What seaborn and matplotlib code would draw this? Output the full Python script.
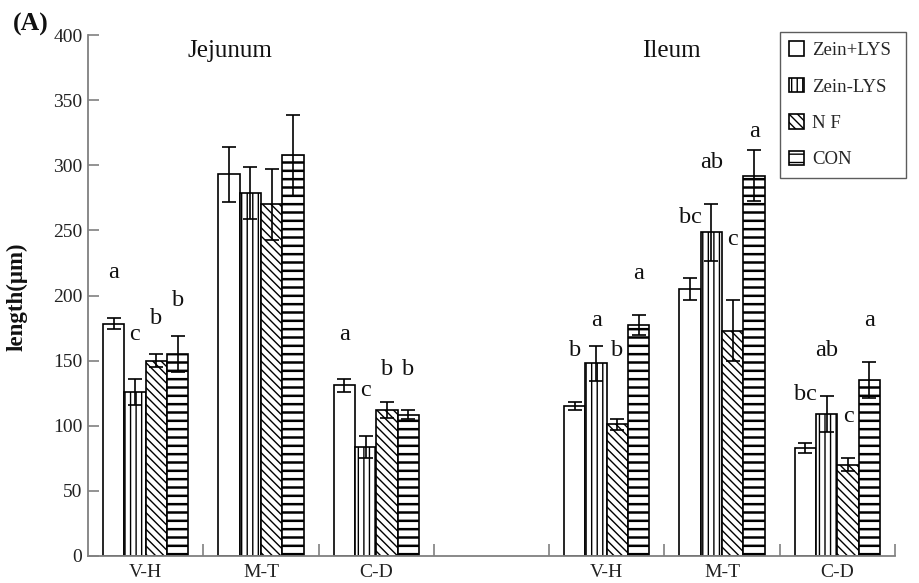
import numpy as np
import pandas as pd
import seaborn as sns
import matplotlib.pyplot as plt

# ---------------- data ----------------
treatments = ["Zein+LYS", "Zein-LYS", "N F", "CON"]
slots = ["J V-H", "J M-T", "J C-D", "gap", "I V-H", "I M-T", "I C-D"]
slot_labels = ["V-H", "M-T", "C-D", "", "V-H", "M-T", "C-D"]
measured_slots = ["J V-H", "J M-T", "J C-D", "I V-H", "I M-T", "I C-D"]

zein_plus = [178.5, 293.0, 131.0, 115.0, 205.0, 83.0]
zein_minus = [126.0, 279.0, 83.5, 148.0, 248.5, 109.0]
nf = [150.0, 270.0, 112.0, 101.0, 173.0, 70.0]
con = [155.0, 307.5, 108.5, 177.5, 292.0, 135.0]

err_zein_plus = [4.0, 21.0, 5.0, 3.0, 8.5, 4.0]
err_zein_minus = [10.0, 20.0, 8.5, 13.5, 22.0, 13.5]
err_nf = [5.0, 27.5, 6.0, 4.5, 23.5, 5.0]
err_con = [14.0, 31.0, 3.5, 7.5, 19.5, 14.0]

letters_zein_plus = ["a", "", "a", "b", "bc", "bc"]
letters_zein_minus = ["c", "", "c", "a", "ab", "ab"]
letters_nf = ["b", "", "b", "b", "c", "c"]
letters_con = ["b", "", "b", "a", "a", "a"]
letter_y_zein_plus = [218, 0, 170, 158, 260, 124]
letter_y_zein_minus = [170, 0, 127, 181, 302, 158]
letter_y_nf = [182, 0, 143, 158, 243, 107]
letter_y_con = [196, 0, 143, 217, 326, 181]

region_titles = ["Jejunum", "Ileum"]

values = [zein_plus, zein_minus, nf, con]
errors = [err_zein_plus, err_zein_minus, err_nf, err_con]
letters = [letters_zein_plus, letters_zein_minus, letters_nf, letters_con]
letter_ys = [letter_y_zein_plus, letter_y_zein_minus, letter_y_nf, letter_y_con]

rows = []
for t, vals in zip(treatments, values):
    for s, v in zip(measured_slots, vals):
        rows.append({"slot": s, "treatment": t, "length": v})
df = pd.DataFrame(rows)

# ---------------- style ----------------
sns.set_style("ticks")
plt.rcParams["font.family"] = ["Liberation Serif", "DejaVu Serif"]
plt.rcParams["hatch.linewidth"] = 1.0
plt.rcParams["hatch.color"] = "black"

fig = plt.figure(figsize=(9.2, 5.83), dpi=100)
ax = fig.add_axes([88 / 920, 27 / 583, 807 / 920, 521 / 583])

sns.barplot(data=df, x="slot", y="length", hue="treatment", order=slots,
            hue_order=treatments, palette=["white"] * 4, edgecolor="black",
            linewidth=1.2, width=0.74, errorbar=None, ax=ax, legend=False)

bar_containers = list(ax.containers)
hatches = ["", "|||", "\\\\\\\\", "--"]
hatch_lws = [1.0, 1.0, 1.0, 1.8]
for cont, h, hlw in zip(bar_containers, hatches, hatch_lws):
    for bar in cont:
        bar.set_hatch(h)
        if hasattr(bar, "set_hatch_linewidth"):
            bar.set_hatch_linewidth(hlw)

# error bars and letters
for i, cont in enumerate(bar_containers):
    for bar in cont:
        xc = bar.get_x() + bar.get_width() / 2
        slot = slots[int(round(xc))]
        j = measured_slots.index(slot)
        ax.errorbar(xc, values[i][j], yerr=errors[i][j], fmt="none",
                    ecolor="black", elinewidth=1.2, capsize=4.8, capthick=1.2,
                    zorder=5)
        if letters[i][j]:
            ax.text(xc, letter_ys[i][j], letters[i][j], ha="center",
                    va="center", fontsize=17.5, color="#111")

# region titles
ax.text(0.727, 388, region_titles[0], ha="center", va="center", fontsize=18, color="#111")
ax.text(4.56, 388, region_titles[1], ha="center", va="center", fontsize=18, color="#111")

# axes
ax.set_xlim(-0.5, 6.5)
ax.set_ylim(0, 400)
ax.set_yticks(np.arange(0, 401, 50))
ax.set_xticks(range(len(slots)))
ax.set_xticklabels(slot_labels)
ax.set_xticks(np.arange(0.5, 7, 1), minor=True)
ax.tick_params(axis="y", direction="in", length=8, width=1.2, color="#808080",
               labelsize=14, labelcolor="#222", pad=4)
ax.tick_params(axis="x", which="major", length=0, labelsize=14,
               labelcolor="#222", pad=6)
ax.tick_params(axis="x", which="minor", direction="in", length=8.5, width=1.2,
               color="#808080")
for sp in ["top", "right"]:
    ax.spines[sp].set_visible(False)
for sp in ["left", "bottom"]:
    ax.spines[sp].set_color("#808080")
    ax.spines[sp].set_linewidth(1.3)

ax.set_xlabel("")
ax.set_ylabel("length(μm)", fontsize=16.5, fontweight="bold", color="#111")
ax.yaxis.set_label_coords((28 - 88) / 807, (556 - 297) / 521)

fig.text(13 / 920, 1 - 24 / 583, "(A)", fontsize=18.5, fontweight="bold",
         va="center", ha="left", color="#111")

leg = ax.legend(handles=bar_containers, labels=treatments, loc="upper left",
                bbox_to_anchor=(780 / 920, 1 - 180 / 583, 126 / 920, 148 / 583),
                bbox_transform=fig.transFigure, borderaxespad=0, mode="expand",
                fontsize=13.5, frameon=True, fancybox=False, shadow=False,
                handlelength=0.8, handleheight=0.8, handletextpad=0.4,
                labelspacing=1.0, borderpad=0.5)
leg.get_frame().set_edgecolor("#333")
leg.get_frame().set_linewidth(1.0)

fig.savefig("out.png", dpi=100)
